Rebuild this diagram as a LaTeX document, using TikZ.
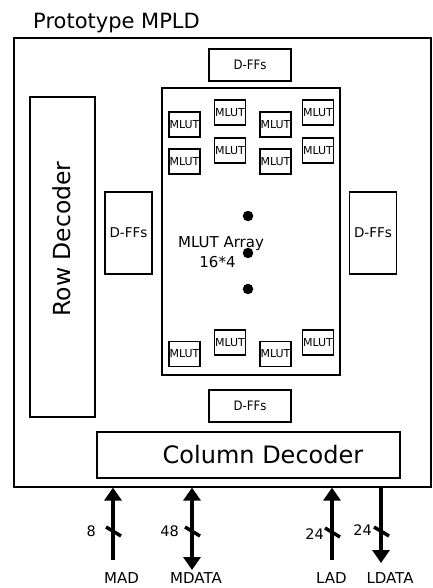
\documentclass[tikz,border=0pt]{standalone}
\usepackage{fontspec}
\usepackage{graphicx}
\setmainfont{DejaVu Sans}
\usetikzlibrary{arrows.meta}
\newcommand{\pxsize}[1]{\fontsize{#1pt}{#1pt}\selectfont}
\begin{document}
\begin{tikzpicture}[x=1pt,y=-1pt,
  box/.style={draw,line width=1.5pt,inner sep=0pt},
  thinbox/.style={draw,line width=1.2pt,inner sep=0pt},
  mlut/.style={box,minimum width=31pt,minimum height=25pt,font=\pxsize{11}},
  dffh/.style={box,minimum width=82pt,minimum height=32pt,font=\pxsize{13}},
  dffv/.style={box,minimum width=47pt,minimum height=82pt,font=\pxsize{13.5}},
  txt/.style={inner sep=0pt},
  bus/.style={line width=4pt},
  uptip/.style={bus,-{Triangle[width=17pt,length=13pt]}},
  bothtip/.style={bus,{Triangle[width=17pt,length=13pt]}-{Triangle[width=17pt,length=13pt]}},
  slashmark/.style={line width=3.5pt},
  dot/.style={circle,fill=black,inner sep=0pt,minimum size=10.5pt}
]
\useasboundingbox (0,0) rectangle (432,588);

% outer box
\node[thinbox,minimum width=417pt,minimum height=449pt] (outer) at (222.5,262.5) {};

% D-FFs
\node[dffh] (dfftop) at (250,65) {\scalebox{0.9}[1]{D-FFs}};
\node[dffh] (dffbot) at (250,406) {\scalebox{0.9}[1]{D-FFs}};
\node[dffv] (dffleft) at (128.5,233) {D-FFs};
\node[dffv] (dffright) at (373,233) {D-FFs};

% array
\node[thinbox,minimum width=178pt,minimum height=287pt] (array) at (251,231.5) {};

% row decoder
\node[box,minimum width=65pt,minimum height=320pt] (rowdec) at (62.5,257) {};
\node[txt,rotate=90,font=\pxsize{23.5}] (rowtext) at (62,239) {Row Decoder};

% column decoder
\node[box,minimum width=303pt,minimum height=46pt] (coldec) at (248.5,455) {};
\node[txt,font=\pxsize{24}] (coltext) at (263,455) {Column Decoder};

% title
\node[txt,anchor=base west] (title) at (33,29) {\fontsize{21pt}{21pt}\selectfont Prototype MPLD};

% MLUTs top
\node[mlut] (m11) at (184.5,124.5) {MLUT};
\node[mlut] (m12) at (230,112.5) {MLUT};
\node[mlut] (m13) at (275.5,124.5) {MLUT};
\node[mlut] (m14) at (318,112.5) {MLUT};
\node[mlut] (m21) at (184.5,161.5) {MLUT};
\node[mlut] (m22) at (230,150.5) {MLUT};
\node[mlut] (m23) at (275.5,161.5) {MLUT};
\node[mlut] (m24) at (318,150.5) {MLUT};
% MLUTs bottom
\node[mlut] (m31) at (184.5,354) {MLUT};
\node[mlut] (m32) at (230,342.5) {MLUT};
\node[mlut] (m33) at (275.5,354) {MLUT};
\node[mlut] (m34) at (318,342.5) {MLUT};

% dots
\node[dot] (d1) at (248,216) {};
\node[dot] (d2) at (248,253) {};
\node[dot] (d3) at (248,289) {};

% array label
\node[txt,anchor=base,font=\pxsize{15}] (arrtxt1) at (221,247) {MLUT Array};
\node[txt,anchor=base,font=\pxsize{15}] (arrtxt2) at (217.5,267) {16*4};

% bus ends
\coordinate (madB) at (113,560);
\coordinate (mdataB) at (192,570);
\coordinate (ladB) at (332,560);
\coordinate (ldataB) at (381,563);

\draw[uptip] (madB) -- (madB |- outer.south);
\draw[bothtip] (mdataB |- outer.south) -- (mdataB);
\draw[uptip] (ladB) -- (ladB |- outer.south);
\draw[uptip] (ldataB |- outer.south) -- (ldataB);

% slash marks
\draw[slashmark] (106,527) -- (121,536);
\draw[slashmark] (185,527) -- (200,536);
\draw[slashmark] (325,528) -- (340,537);
\draw[slashmark] (374,527) -- (389,536);

% widths
\node[txt,anchor=base east,font=\pxsize{14.5}] (w1) at (96,536) {8};
\node[txt,anchor=base east,font=\pxsize{14.5}] (w2) at (179,536) {48};
\node[txt,anchor=base east,font=\pxsize{14.5}] (w3) at (324,539) {24};
\node[txt,anchor=base east,font=\pxsize{14.5}] (w4) at (372,535) {24};

% bus names
\node[txt,anchor=base,font=\pxsize{15}] (lmad) at (121.5,583) {MAD};
\node[txt,anchor=base,font=\pxsize{15}] (lmdata) at (196,583) {MDATA};
\node[txt,anchor=base,font=\pxsize{15}] (llad) at (331.5,583) {LAD};
\node[txt,anchor=base,font=\pxsize{15}] (lldata) at (390,583) {LDATA};
\end{tikzpicture}
\end{document}
